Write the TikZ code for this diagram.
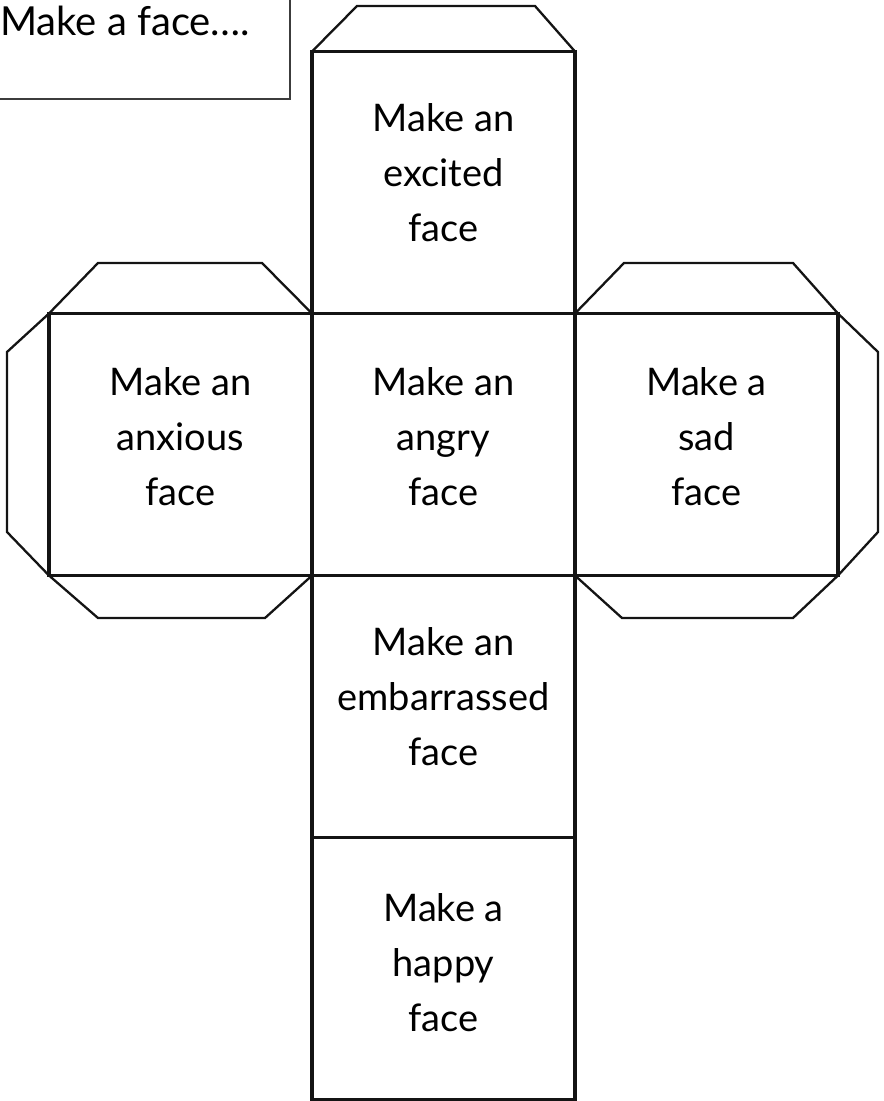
\documentclass[tikz,border=0pt]{standalone}
\usepackage{fontspec}
\setmainfont{Lato}
\usepackage{tikz}
\usetikzlibrary{positioning}
\definecolor{ink}{RGB}{20, 20, 20}
\definecolor{frame}{RGB}{60, 60, 60}

\begin{document}
\begin{tikzpicture}[
    x=1pt, y=-1pt,
    side/.style={rectangle, draw=ink, line width=3.2pt, outer sep=0pt,
                 minimum width=263pt, minimum height=262pt, inner sep=0pt},
    flap/.style={draw=ink, line width=2.3pt, line join=miter},
    say/.style={align=center, inner sep=0pt, font=\fontsize{38}{55}\selectfont}
]
\useasboundingbox (0,0) rectangle (884,1101);

% Title box
\draw[frame, line width=1.2pt] (-3,-3) rectangle (290,99);
\node[anchor=base west, inner sep=0pt, font=\fontsize{40}{48}\selectfont] (title) at (0,35) {Make a face….};

% Cube net: cross of six sides
\node[side] (mid) at (443.5,444.5) {};
\node[side, above=0pt of mid] (top) {};
\node[side, left=0pt of mid] (lft) {};
\node[side, right=0pt of mid] (rgt) {};
\node[side, below=0pt of mid] (low) {};
\node[side, below=0pt of low] (base) {};

% Glue flaps
\draw[flap] (top.north west) -- (357,6) -- (535,6) -- (top.north east);
\draw[flap] (lft.north west) -- (98,263) -- (262,263) -- (lft.north east);
\draw[flap] (lft.north west) -- (7,352) -- (7,532) -- (lft.south west);
\draw[flap] (lft.south west) -- (98,618) -- (265,618) -- (lft.south east);
\draw[flap] (rgt.north west) -- (624,263) -- (793,263) -- (rgt.north east);
\draw[flap] (rgt.north east) -- (878,352) -- (878,532) -- (rgt.south east);
\draw[flap] (rgt.south west) -- (622,618) -- (793,618) -- (rgt.south east);

% Labels
\node[say] (t1) at ([yshift=10pt]top.center) {Make an\\excited\\face};
\node[say] (t2) at ([yshift=8pt]lft.center) {Make an\\anxious\\face};
\node[say] (t3) at ([yshift=8pt]mid.center) {Make an\\angry\\face};
\node[say] (t4) at ([yshift=8pt]rgt.center) {Make a\\sad\\face};
\node[say] (t5) at ([yshift=10pt]low.center) {Make an\\embarrassed\\face};
\node[say] (t6) at ([yshift=6pt]base.center) {Make a\\happy\\face};
\end{tikzpicture}
\end{document}
